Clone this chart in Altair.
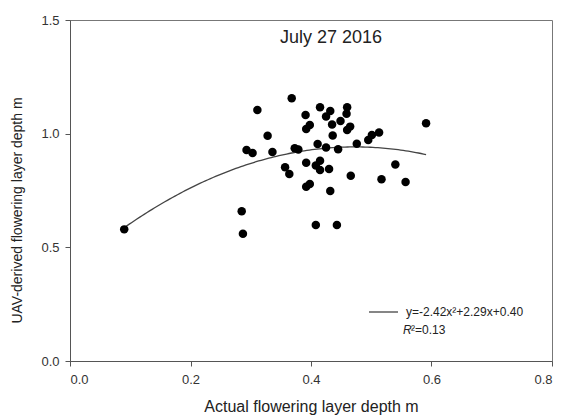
import altair as alt
import numpy as np
import pandas as pd

# Field measurements: actual depth vs UAV-derived depth (m)
actual = [0.090, 0.285, 0.287, 0.293, 0.303, 0.311, 0.328, 0.336, 0.357, 0.364,
          0.368, 0.373, 0.379, 0.391, 0.398, 0.392, 0.392, 0.392, 0.398, 0.408,
          0.411, 0.415, 0.415, 0.408, 0.415, 0.425, 0.425, 0.432, 0.430, 0.432,
          0.435, 0.436, 0.443, 0.445, 0.449, 0.460, 0.459, 0.465, 0.460, 0.466,
          0.476, 0.495, 0.501, 0.513, 0.517, 0.540, 0.557, 0.591]
uav = [0.579, 0.659, 0.560, 0.928, 0.915, 1.104, 0.991, 0.919, 0.852, 0.823,
       1.156, 0.936, 0.930, 1.082, 1.038, 1.021, 0.872, 0.767, 0.779, 0.598,
       0.955, 1.116, 0.881, 0.860, 0.840, 0.939, 1.076, 1.100, 0.845, 0.748,
       1.040, 0.992, 0.598, 0.931, 1.056, 1.116, 1.088, 1.031, 1.016, 0.815,
       0.956, 0.972, 0.994, 1.005, 0.800, 0.864, 0.787, 1.046]

# Quadratic fit coefficients (y = c2*x^2 + c1*x + c0) and its R^2
c2, c1, c0 = -2.42, 2.29, 0.40
r2 = 0.13

x_ticks = [0.0, 0.2, 0.4, 0.6, 0.8]
y_ticks = [0.0, 0.5, 1.0, 1.5]

pts = pd.DataFrame({"actual": actual, "uav": uav})
xs = np.linspace(min(actual), max(actual), 120)
fit = pd.DataFrame({"actual": xs, "uav": c2 * xs**2 + c1 * xs + c0})

FONT = "Liberation Sans"
W, H = 482, 341

xscale = alt.Scale(domain=[0, 0.8], nice=False, zero=False)
yscale = alt.Scale(domain=[0, 1.5], nice=False, zero=False)

axis_common = dict(
    grid=False, format=".1f", domainColor="#555", tickColor="#555",
    tickSize=5, labelColor="#333", labelFont=FONT, labelFontSize=13,
    titleFont=FONT, titleColor="#222", titleFontWeight="normal",
)

xaxis = alt.Axis(values=x_ticks, title="Actual flowering layer depth m",
                 titleFontSize=16, labelPadding=7, titlePadding=12, **axis_common)
yaxis = alt.Axis(values=y_ticks, title="UAV-derived flowering layer depth m",
                 titleFontSize=14, labelPadding=6, titleX=-46, titleY=190,
                 **axis_common)

points = alt.Chart(pts).mark_circle(size=72, color="#000", opacity=1).encode(
    x=alt.X("actual:Q", scale=xscale, axis=xaxis),
    y=alt.Y("uav:Q", scale=yscale, axis=yaxis),
)

curve = alt.Chart(fit).mark_line(color="#444", strokeWidth=1.3).encode(
    x=alt.X("actual:Q", scale=xscale),
    y=alt.Y("uav:Q", scale=yscale),
)

title = alt.Chart(pd.DataFrame({"t": ["July 27 2016"]})).mark_text(
    font=FONT, fontSize=18, color="#222", baseline="middle", align="center"
).encode(x=alt.value(261), y=alt.value(18), text="t:N")

legend_line = alt.Chart(pd.DataFrame({"k": [0]})).mark_rule(
    color="#444", strokeWidth=1.3
).encode(x=alt.value(299), x2=alt.value(328), y=alt.value(292))

eq_label = f"y={c2:.2f}x\u00b2+{c1:.2f}x+{c0:.2f}"
legend_eq = alt.Chart(pd.DataFrame({"t": [eq_label]})).mark_text(
    font=FONT, fontSize=12, color="#222", align="left", baseline="middle"
).encode(x=alt.value(336), y=alt.value(292), text="t:N")

legend_r = alt.Chart(pd.DataFrame({"t": ["R"]})).mark_text(
    font=FONT, fontSize=12, fontStyle="italic", color="#222", align="left", baseline="middle"
).encode(x=alt.value(333), y=alt.value(310), text="t:N")

legend_r2 = alt.Chart(pd.DataFrame({"t": [f"\u00b2={r2:.2f}"]})).mark_text(
    font=FONT, fontSize=12, color="#222", align="left", baseline="middle"
).encode(x=alt.value(341), y=alt.value(310), text="t:N")

chart = alt.layer(
    curve, points, title, legend_line, legend_eq, legend_r, legend_r2
).properties(
    width=W, height=H,
    autosize=alt.AutoSizeParams(type="none"),
    padding={"left": 70, "top": 20, "right": 16, "bottom": 55},
    background="white",
).configure_view(stroke="#777", strokeWidth=1)

chart.save("out.html", embed_options={"renderer": "svg", "actions": False})
